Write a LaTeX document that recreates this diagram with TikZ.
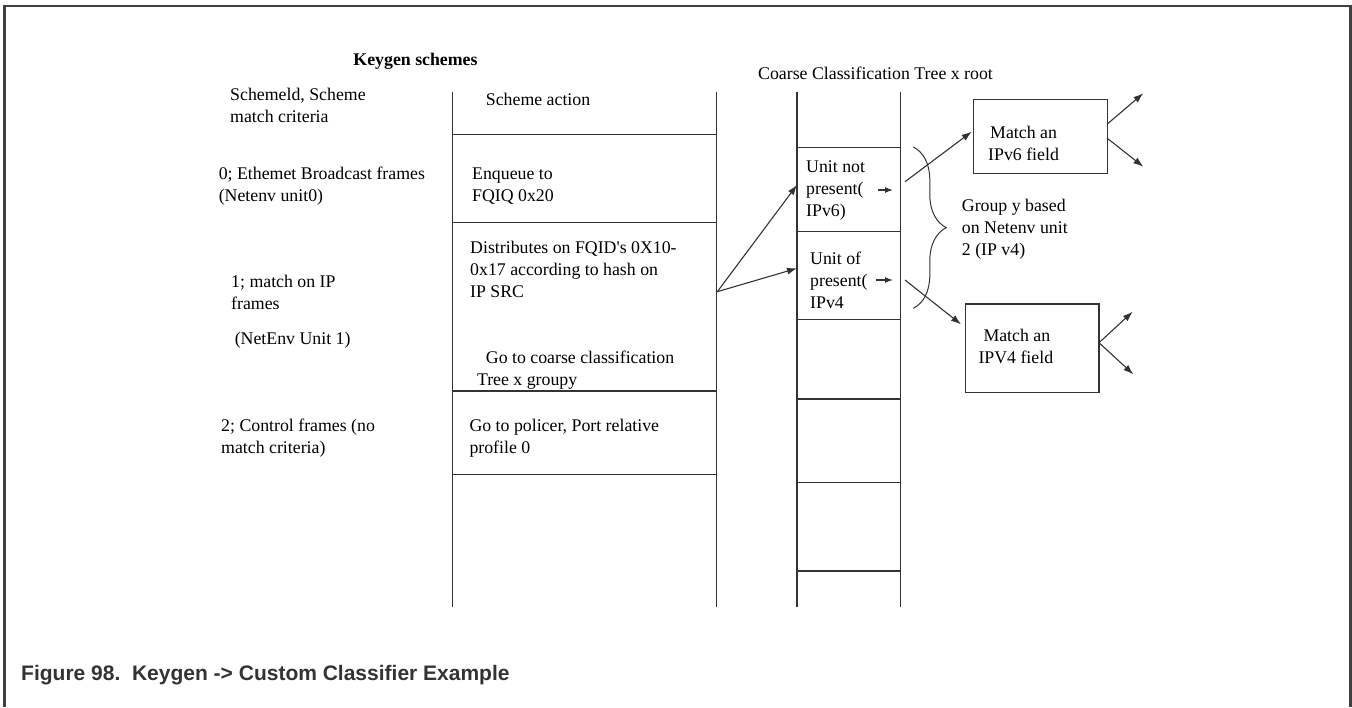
\documentclass[tikz,border=0pt]{standalone}
\usepackage{fontspec}
\setmainfont{Liberation Serif}
\newfontfamily\capfont{Liberation Sans}
\usetikzlibrary{arrows.meta,decorations.pathreplacing}
\begin{document}
\begin{tikzpicture}[x=1pt,y=-1pt,
  txt/.style={font=\fontsize{17.8}{22}\selectfont, inner sep=0pt, align=left, anchor=west, text=black},
  ln/.style={line width=1.1pt, draw=black!80},
  arr/.style={ln, -{Latex[length=10pt,width=7pt]}},
  sarr/.style={ln, -{Latex[length=8pt,width=6pt]}},
  boxn/.style={draw=black!80, line width=1.1pt, rectangle, inner sep=0pt}]
\useasboundingbox (0,0) rectangle (1352,707);
% frame
\draw[line width=2.6pt, draw=black!75] (4.7,707) -- (4.7,6) -- (1350.7,6) -- (1350.7,707);

% keygen column
\draw[ln] (452.5,91.7) -- (452.5,607) (716.8,91.7) -- (716.8,607);
\foreach \yy in {134.3,222.7,391,474.3} \draw[ln] (452.5,\yy) -- (716.8,\yy);
% coarse classification column
\draw[ln] (797,91.7) -- (797,607) (900.7,91.7) -- (900.7,607);
\foreach \yy in {147.3,231.7,319.3,399,482.7,571} \draw[ln] (797,\yy) -- (900.7,\yy);

% headings
\node[txt, anchor=center, font=\fontsize{17.8}{22}\selectfont\bfseries] (kgs) at (415.5,61.7) {Keygen schemes};
\node[txt] (cct) at (758,73.3) {Coarse Classification Tree x root};

% left column texts
\node[txt] (s0) at (230,105.2) {Schemeld, Scheme\\match criteria};
\node[txt] (s1) at (218.6,186.5) {0; Ethemet Broadcast frames\\(Netenv unit0)};
\node[txt] (s2) at (231,292.5) {1; match on IP\\frames};
\node[txt] (s3) at (234.6,340) {(NetEnv Unit 1)};
\node[txt] (s4) at (221,438) {2; Control frames (no\\match criteria)};

% scheme actions
\node[txt] (a0) at (485.7,99) {Scheme action};
\node[txt] (a1) at (472,186.5) {Enqueue to\\FQIQ 0x20};
\node[txt] (a2) at (470,269) {Distributes on FQID\textquotesingle s 0X10-\\0x17 according to hash on\\IP SRC};
\node[txt] (a3) at (476.8,370) {\hspace*{8.9pt}Go to coarse classification\\Tree x groupy};
\node[txt] (a4) at (469.3,438) {Go to policer, Port relative\\profile 0};

% CC cells
\node[txt] (u6) at (806,190) {Unit not\\present(\\IPv6)};
\node[txt] (u4) at (810,280.5) {Unit of\\present(\\IPv4};

% group label
\node[txt] (grp) at (961.7,229.5) {Group y based\\on Netenv unit\\2 (IP v4)};

% match boxes
\node[boxn, minimum width=134pt, minimum height=74pt] (m6) at (1040.3,136.3) {};
\node[txt] (m6t) at (988,143.8) {\hspace*{2pt}Match an\\IPv6 field};
\node[boxn, minimum width=133.3pt, minimum height=88.3pt] (m4) at (1032.35,348.15) {};
\node[txt] (m4t) at (978.3,346.4) {\hspace*{5pt}Match an\\IPV4 field};

% connection points
\coordinate (kgout) at (717.3,291.7);
\coordinate (u6in) at (797,185);
\coordinate (u4in) at (797,268.3);
\coordinate (u6a) at (878,190);
\coordinate (u6b) at (893,190);
\coordinate (u4a) at (876,280);
\coordinate (u4b) at (893,280);
\coordinate (u6out) at (905,181.7);
\coordinate (u4out) at (905,280);
\coordinate (m6in) at (971.7,131.7);
\coordinate (m4in) at (961,324.3);
\coordinate (m6o1) at (1107.3,124);
\coordinate (m6o2) at (1107.3,138.3);
\coordinate (m6e1) at (1143.3,93.3);
\coordinate (m6e2) at (1143.3,166.7);
\coordinate (m4o) at (1099,342.7);
\coordinate (m4e1) at (1132.7,311.7);
\coordinate (m4e2) at (1133.3,374.3);

\draw[arr] (kgout) -- (u6in);
\draw[arr] (kgout) -- (u4in);
\draw[sarr] (u6a) -- (u6b);
\draw[sarr] (u4a) -- (u4b);
\draw[arr] (u6out) -- (m6in);
\draw[arr] (u4out) -- (m4in);
\draw[arr] (m6o1) -- (m6e1);
\draw[arr] (m6o2) -- (m6e2);
\draw[arr] (m4o) -- (m4e1);
\draw[arr] (m4o) -- (m4e2);

% brace
\coordinate (brt) at (913.3,147);
\coordinate (brb) at (913.3,308.3);
\draw[ln, line width=1pt, decorate, decoration={brace, amplitude=33pt, aspect=0.5}] (brt) -- (brb);

% caption
\node[inner sep=0pt, anchor=base west, font=\capfont\bfseries\fontsize{21}{24}\selectfont, text=black!80] (cap) at (21,680) {Figure 98.\ \ Keygen -> Custom Classifier Example};
\end{tikzpicture}
\end{document}
